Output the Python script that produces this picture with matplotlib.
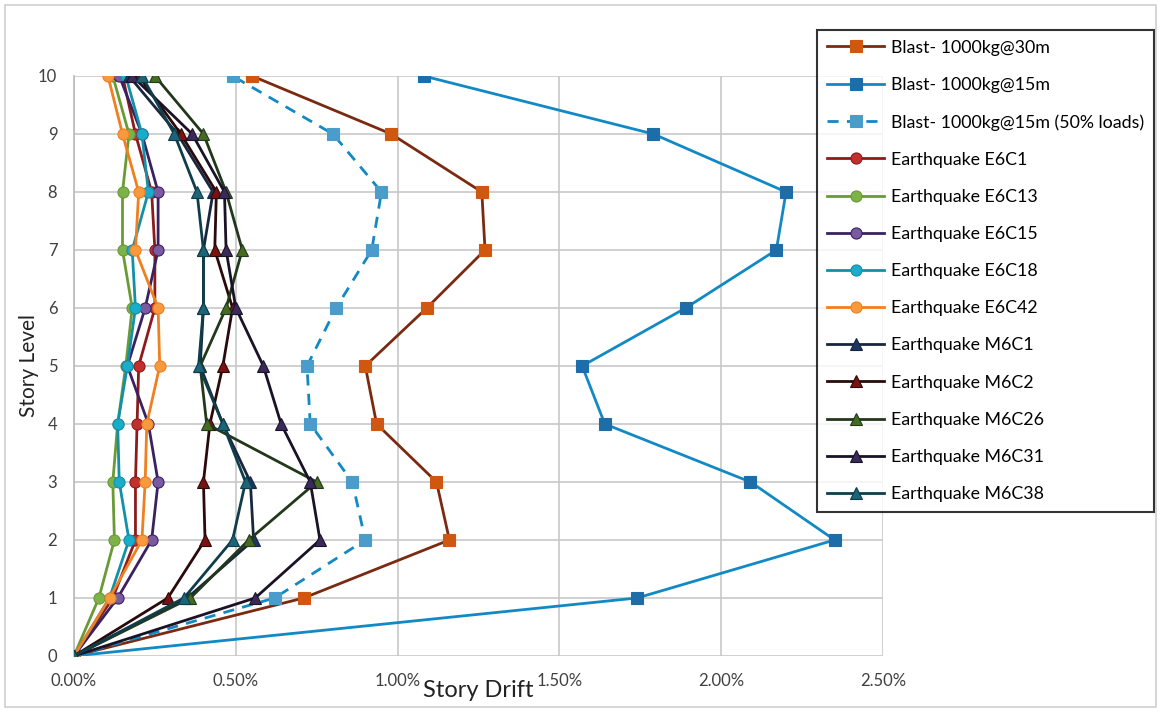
import numpy as np
import matplotlib.pyplot as plt
from matplotlib.ticker import FuncFormatter, MultipleLocator

plt.rcParams['font.family'] = ['Lato', 'DejaVu Sans']

# Этажи
levels = [0, 1, 2, 3, 4, 5, 6, 7, 8, 9, 10]

# Дрейф этажа, % (уровни 0..10)
blast_30m = [0, 0.71, 1.16, 1.12, 0.935, 0.90, 1.09, 1.27, 1.26, 0.98, 0.55]
blast_15m = [0, 1.74, 2.35, 2.09, 1.64, 1.57, 1.89, 2.17, 2.20, 1.79, 1.08]
blast_15m_50 = [0, 0.62, 0.90, 0.86, 0.73, 0.72, 0.81, 0.92, 0.95, 0.80, 0.49]
e6c1 = [0, 0.12, 0.19, 0.19, 0.195, 0.20, 0.25, 0.25, 0.24, 0.19, 0.15]
e6c13 = [0, 0.077, 0.125, 0.12, 0.135, 0.16, 0.18, 0.15, 0.15, 0.17, 0.12]
e6c15 = [0, 0.135, 0.24, 0.26, 0.23, 0.165, 0.22, 0.26, 0.26, 0.21, 0.14]
e6c18 = [0, 0.11, 0.17, 0.14, 0.135, 0.165, 0.19, 0.18, 0.23, 0.21, 0.16]
e6c42 = [0, 0.11, 0.21, 0.22, 0.225, 0.265, 0.26, 0.19, 0.20, 0.15, 0.105]
m6c1 = [0, 0.35, 0.555, 0.545, 0.46, 0.39, 0.40, 0.40, 0.43, 0.32, 0.17]
m6c2 = [0, 0.29, 0.405, 0.40, 0.42, 0.46, 0.49, 0.435, 0.44, 0.33, 0.20]
m6c26 = [0, 0.36, 0.54, 0.75, 0.41, 0.39, 0.47, 0.52, 0.47, 0.40, 0.25]
m6c31 = [0, 0.56, 0.76, 0.73, 0.64, 0.585, 0.50, 0.47, 0.465, 0.365, 0.18]
m6c38 = [0, 0.34, 0.49, 0.53, 0.46, 0.385, 0.40, 0.40, 0.38, 0.31, 0.21]

# (подпись, данные, цвет линии, цвет маркера, маркер, стиль)
series = [
    ('Blast- 1000kg@30m', blast_30m, '#7A2A10', '#D0570F', 's', '-'),
    ('Blast- 1000kg@15m', blast_15m, '#1189C4', '#1D6EA8', 's', '-'),
    ('Blast- 1000kg@15m (50% loads)', blast_15m_50, '#1189C4', '#4A9CCB', 's', '--'),
    ('Earthquake E6C1', e6c1, '#8E1B1B', '#C0302E', 'o', '-'),
    ('Earthquake E6C13', e6c13, '#6A9A35', '#7DB249', 'o', '-'),
    ('Earthquake E6C15', e6c15, '#3A2262', '#7A5AA0', 'o', '-'),
    ('Earthquake E6C18', e6c18, '#138FAA', '#1AADC9', 'o', '-'),
    ('Earthquake E6C42', e6c42, '#F07F20', '#F79A3E', 'o', '-'),
    ('Earthquake M6C1', m6c1, '#18263F', '#1E3660', '^', '-'),
    ('Earthquake M6C2', m6c2, '#2A0A0A', '#7B1212', '^', '-'),
    ('Earthquake M6C26', m6c26, '#22381A', '#456B23', '^', '-'),
    ('Earthquake M6C31', m6c31, '#1A1226', '#3A2A5A', '^', '-'),
    ('Earthquake M6C38', m6c38, '#0F3D49', '#1C6478', '^', '-'),
]

fig = plt.figure(figsize=(11.61, 7.12), dpi=100)
ax = fig.add_axes([0.0637, 0.0787, 0.697, 0.8146])

for name, vals, lc, mc, mk, ls in series:
    ms = 8.5 if mk == 's' else 8
    ax.plot(vals, levels, color=lc, linestyle=ls, linewidth=2,
            marker=mk, markersize=ms, markerfacecolor=mc,
            markeredgecolor=lc if mk != 's' else mc, markeredgewidth=0.8,
            label=name, dashes=(4, 3) if ls == '--' else (None, None), zorder=3)

ax.set_xlim(0, 2.5)
ax.set_ylim(0, 10)
ax.xaxis.set_major_locator(MultipleLocator(0.5))
ax.yaxis.set_major_locator(MultipleLocator(1))
ax.xaxis.set_major_formatter(FuncFormatter(lambda v, p: f'{v:.2f}%'))
ax.grid(True, color='#C8C8C8', linewidth=1.2)
ax.set_axisbelow(True)
for s in ['top', 'right', 'bottom']:
    ax.spines[s].set_visible(False)
ax.spines['left'].set_color('#BBBBBB')
ax.spines['left'].set_linewidth(1.2)
ax.tick_params(length=0, labelsize=12, colors='#404040', pad=12)
ax.set_xlabel('Story Drift', fontsize=17, color='#222222', labelpad=-6)
ax.set_ylabel('Story Level', fontsize=15, color='#222222', labelpad=-1)

leg = fig.legend(loc='upper left', bbox_to_anchor=(0.704, 0.958), fontsize=12.8,
                 frameon=True, fancybox=False, edgecolor='black',
                 borderpad=0.55, labelspacing=1.19, handlelength=3.2,
                 handletextpad=0.4, borderaxespad=0)
leg.get_frame().set_linewidth(1.5)

# Рамка вокруг всего рисунка
fig.patches.append(plt.Rectangle((0.004, 0.007), 0.992, 0.986, transform=fig.transFigure,
                                 fill=False, edgecolor='#D0D0D0', linewidth=1.2))

fig.savefig('out.png', dpi=100)
